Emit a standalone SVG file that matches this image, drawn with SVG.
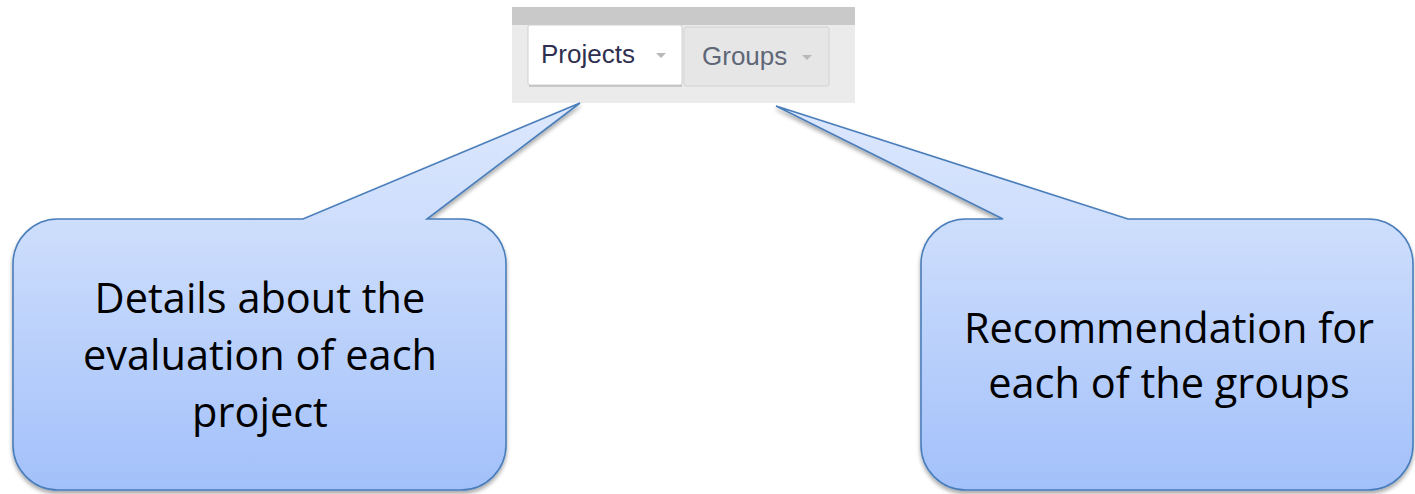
<svg xmlns="http://www.w3.org/2000/svg" width="1415" height="494" viewBox="0 0 1415 494">
<defs>
<linearGradient id="g" x1="0" y1="0" x2="0" y2="1">
<stop offset="0" stop-color="#dde8fd"/>
<stop offset="0.35" stop-color="#cbdcfc"/>
<stop offset="1" stop-color="#a2c0fa"/>
</linearGradient>
<filter id="sh" x="-5%" y="-5%" width="110%" height="115%">
<feGaussianBlur in="SourceAlpha" stdDeviation="2"/>
<feOffset dx="0" dy="3" result="b"/>
<feComponentTransfer><feFuncA type="linear" slope="0.35"/></feComponentTransfer>
<feMerge><feMergeNode/><feMergeNode in="SourceGraphic"/></feMerge>
</filter>
</defs>
<style>
.call{fill:url(#g);stroke:#4a7ebb;stroke-width:1.6;filter:url(#sh)}
.ct{font-family:"Open Sans","Liberation Sans",sans-serif;font-size:41.5px;fill:#000;text-anchor:middle}
.tab{font-family:"Liberation Sans",Arial,sans-serif;font-size:26px}
</style>
<g id="screenshot">
<rect x="512" y="7" width="343" height="96" fill="#ebebeb"/>
<rect x="512" y="7" width="343" height="18" fill="#c9c9c9"/>
<rect x="528" y="25" width="154" height="60" rx="2" fill="#ffffff" stroke="#cfcfcf" stroke-width="1"/>
<line x1="529" y1="86" x2="682" y2="86" stroke="#bdbdbd" stroke-width="1.5"/>
<text class="tab" x="541" y="63" fill="#2f2f4f">Projects</text>
<path d="M656,53 L666,53 L661,58 Z" fill="#b8b8b8"/>
<rect x="684" y="27" width="145" height="59" rx="2" fill="#e6e6e6" stroke="#d2d2d2" stroke-width="1"/>
<text class="tab" x="702" y="65" fill="#5e6677">Groups</text>
<path d="M802,55 L812,55 L807,60 Z" fill="#b8b8b8"/>
</g>
<g id="callout-projects">
<path class="call" d="M58,219 H303 L580,103 L427,219 H461 A45,45 0 0 1 506,264 V445 A45,45 0 0 1 461,490 H58 A45,45 0 0 1 13,445 V264 A45,45 0 0 1 58,219 Z"/>
<text class="ct" x="260" y="313">Details about the</text>
<text class="ct" x="260" y="370">evaluation of each</text>
<text class="ct" x="260" y="427">project</text>
</g>
<g id="callout-groups">
<path class="call" d="M966,219 H1003 L776,106 L1128,219 H1368 A45,45 0 0 1 1413,264 V445 A45,45 0 0 1 1368,490 H966 A45,45 0 0 1 921,445 V264 A45,45 0 0 1 966,219 Z"/>
<text class="ct" x="1169" y="343">Recommendation for</text>
<text class="ct" x="1169" y="398">each of the groups</text>
</g>
<g id="connectors"></g>
</svg>
